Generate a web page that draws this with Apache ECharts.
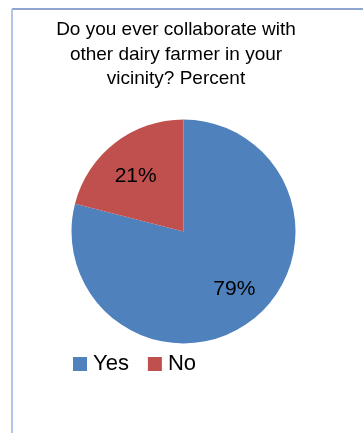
<!DOCTYPE html>
<html>
<head>
<meta charset="utf-8">
<script src="https://cdn.jsdelivr.net/npm/echarts@6/dist/echarts.min.js"></script>
<style>
  html, body { margin: 0; padding: 0; background: #fff; }
</style>
</head>
<body>
<div id="main" style="width: 363px; height: 433px"></div>
<script>
var categories = ["Yes", "No"];
var values = [79, 21];
var colors = ["#4f81bd", "#c0504d"];

var pieData = categories.map(function (name, i) {
  return { name: name, value: values[i], itemStyle: { color: colors[i] } };
});
// small nudges so the percent labels sit where the original has them
var labelNudge = [[3, -4], [0, 6]];

var myChart = echarts.init(document.getElementById("main"));
var option = {
  backgroundColor: "#fff",
  title: {
    text: "Do you ever collaborate with\nother dairy farmer in your\nvicinity? Percent",
    left: 171,
    top: 13,
    textAlign: "center",
    textStyle: {
      fontFamily: "Liberation Sans",
      fontSize: 19,
      fontWeight: "normal",
      color: "#000",
      lineHeight: 24.5
    }
  },
  legend: {
    data: categories,
    left: 73,
    top: 353,
    padding: 0,
    itemWidth: 14,
    itemHeight: 14,
    itemGap: 19,
    icon: "rect",
    textStyle: {
      fontFamily: "Liberation Sans",
      fontSize: 22,
      color: "#000",
      padding: [0, 0, 0, 1]
    }
  },
  graphic: [
    { type: "line", shape: { x1: 12, y1: 9, x2: 363, y2: 9 }, style: { stroke: "#8ea5cf", lineWidth: 2 }, silent: true },
    { type: "line", shape: { x1: 12, y1: 9, x2: 12, y2: 433 }, style: { stroke: "#b4c6e7", lineWidth: 2 }, silent: true }
  ],
  series: [
    {
      type: "pie",
      center: [183.5, 231.5],
      radius: [0, 112],
      startAngle: 90,
      clockwise: true,
      silent: true,
      label: { show: false },
      labelLine: { show: false },
      itemStyle: { borderWidth: 0 },
      data: pieData
    },
    {
      // label carrier: same slices, transparent, so labels sit at ~2/3 radius
      type: "pie",
      center: [183.5, 231.5],
      radius: [38, 112],
      startAngle: 90,
      clockwise: true,
      silent: true,
      itemStyle: { color: "rgba(0,0,0,0)", borderWidth: 0 },
      label: {
        show: true,
        position: "inside",
        formatter: "{c}%",
        fontFamily: "Liberation Sans",
        fontSize: 21,
        color: "#000"
      },
      labelLine: { show: false },
      data: categories.map(function (name, i) {
        return { name: name, value: values[i], label: { offset: labelNudge[i] } };
      })
    }
  ]
};

option && myChart.setOption(option);
</script>
</body>
</html>
